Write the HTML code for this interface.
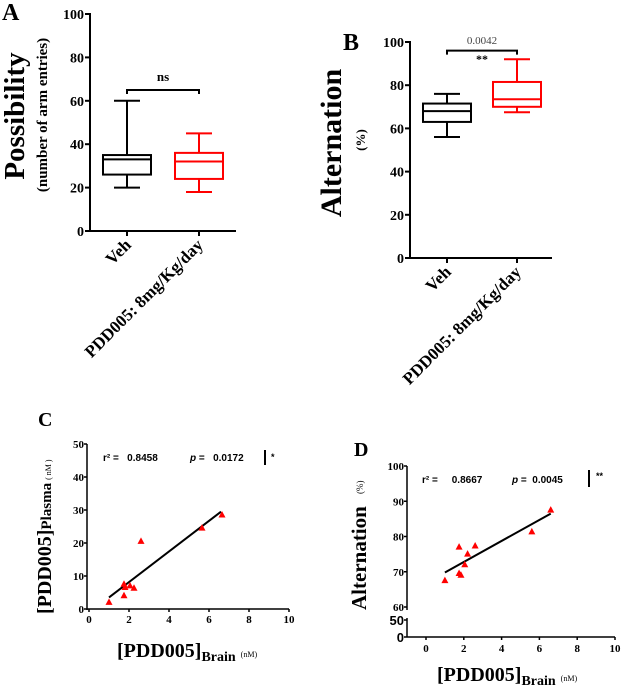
<!DOCTYPE html>
<html><head><meta charset="utf-8"><style>
html,body{margin:0;padding:0;background:#fff;width:621px;height:685px;overflow:hidden}
svg{display:block}
.t{font-family:"Liberation Serif",serif;font-weight:bold;fill:#000}
.s{font-family:"Liberation Sans",sans-serif;font-weight:bold;fill:#000;white-space:pre}
</style></head><body>
<svg id="fig" width="621" height="685" viewBox="0 0 621 685" xmlns="http://www.w3.org/2000/svg">
<text class="t" x="2" y="20" font-size="24">A</text>
<text class="t" font-size="29" transform="translate(24,116) rotate(-90)" text-anchor="middle">Possibility</text>
<text class="t" font-size="15" transform="translate(47,115) rotate(-90)" text-anchor="middle">(number of arm entries)</text>
<text class="t" x="163" y="81" font-size="13" text-anchor="middle">ns</text>
<text class="t" x="343" y="50" font-size="24">B</text>
<text class="t" font-size="30" transform="translate(341,143) rotate(-90)" text-anchor="middle">Alternation</text>
<text class="t" font-size="13" transform="translate(365,140) rotate(-90)" text-anchor="middle">(%)</text>
<text x="482" y="44" font-size="11" text-anchor="middle" fill="#444" font-family="Liberation Serif,serif">0.0042</text>
<text class="t" x="482" y="63" font-size="12" text-anchor="middle">**</text>
<text class="t" x="38" y="426" font-size="20">C</text>
<text class="t" font-size="20" transform="translate(51,614) rotate(-90)">[PDD005]<tspan font-size="15">Plasma</tspan><tspan font-size="8" font-weight="normal" dx="3">( nM )</tspan></text>
<text class="t" x="117" y="657" font-size="20">[PDD005]<tspan font-size="14" dy="4">Brain</tspan><tspan font-size="8" font-weight="normal" dx="5" dy="-4">(nM)</tspan></text>
<text class="s" x="103" y="461" font-size="10">r² =   0.8458</text>
<text class="s" x="190" y="461" font-size="10"><tspan font-style="italic">p</tspan> =   0.0172</text>
<line x1="265" y1="450" x2="265" y2="465" stroke="#000" stroke-width="2"/>
<text class="s" x="271" y="460" font-size="9">*</text>
<text class="t" x="354" y="456" font-size="20">D</text>
<text class="t" font-size="21" transform="translate(366,610) rotate(-90)">Alternation</text>
<text font-size="9" font-family="Liberation Serif,serif" transform="translate(363,494) rotate(-90)">(%)</text>
<text class="t" x="437" y="681" font-size="20">[PDD005]<tspan font-size="14" dy="4">Brain</tspan><tspan font-size="8" font-weight="normal" dx="5" dy="-4">(nM)</tspan></text>
<text class="s" x="422" y="483" font-size="10">r² =     0.8667</text>
<text class="s" x="512" y="483" font-size="10"><tspan font-style="italic">p</tspan> =  0.0045</text>
<line x1="589" y1="470" x2="589" y2="487" stroke="#000" stroke-width="2"/>
<text class="s" x="596" y="479" font-size="9">**</text>
</svg>
<script>
const boxGroups = ["Veh", "PDD005: 8mg/Kg/day"];
const boxAMin = [20, 18], boxAQ1 = [26, 24], boxAMed = [33, 32], boxAQ3 = [35, 36], boxAMax = [60, 45];
const boxBMin = [56, 67.5], boxBQ1 = [63, 70], boxBMed = [68, 73.5], boxBQ3 = [71.5, 81.5], boxBMax = [76, 92];
const boxTicks = [0, 20, 40, 60, 80, 100];
const boxColors = ["#000", "#f00"];
const cX = [1.0, 1.75, 1.75, 1.8, 2.05, 2.25, 2.6, 5.65, 6.65];
const cY = [2, 7.5, 4, 6.5, 7, 6.3, 20.5, 24.5, 28.5];
const cFitX = [1.0, 6.6], cFitY = [3.5, 29.5];
const cXTicks = [0, 2, 4, 6, 8, 10], cYTicks = [0, 10, 20, 30, 40, 50];
const dX = [1.0, 1.75, 1.75, 1.85, 2.05, 2.2, 2.6, 5.6, 6.6];
const dY = [67.5, 77, 69.5, 69, 72, 75, 77.3, 81.3, 87.5];
const dFitX = [1.0, 6.6], dFitY = [69.8, 86.5];
const dXTicks = [0, 2, 4, 6, 8, 10], dYTicksUpper = [60, 70, 80, 90, 100], dYTicksLower = [0, 50];

const svg = document.getElementById('fig');
const NS = "http://www.w3.org/2000/svg";
function mk(tag, attrs, parent) {
  const e = document.createElementNS(NS, tag);
  for (const k in attrs) e.setAttribute(k, attrs[k]);
  (parent || svg).appendChild(e);
  return e;
}
function txt(x, y, s, size, anchor, cls) {
  const t = mk('text', {x: x, y: y, 'font-size': size, 'text-anchor': anchor || 'middle', class: cls || 't'});
  t.textContent = s;
  return t;
}

function boxPanel(p, ax, y0, y100, cx, xEnd, mins, q1, med, q3, maxs, bracketV) {
  const sy = v => y0 - (y0 - y100) * v / 100;
  const a = mk('line', {x1: ax, y1: y100 - 1, x2: ax, y2: y0, stroke: '#000', 'stroke-width': 2});
  
  
  const b = mk('line', {x1: ax, y1: y0, x2: xEnd, y2: y0, stroke: '#000', 'stroke-width': 2});
  
  
  boxTicks.forEach(v => {
    const tk = mk('line', {x1: ax - 5, y1: sy(v), x2: ax, y2: sy(v), stroke: '#000', 'stroke-width': 2});
    
    
    const tl = txt(ax - 6, sy(v) + 5, String(v), 14, 'end');
    
    
  });
  boxGroups.forEach((g, i) => {
    const x = cx[i], c = boxColors[i], hw = 24;
    const tk = mk('line', {x1: x, y1: y0, x2: x, y2: y0 + 5, stroke: '#000', 'stroke-width': 2});
    
    
    const lab = txt(0, 0, g, 17, 'end');
    lab.setAttribute('transform', 'translate(' + (x + 5) + ',' + (y0 + 15) + ') rotate(-45)');
    
    
    const grp = mk('g', {stroke: c, 'stroke-width': 2, fill: 'none'});
    
    
    mk('line', {x1: x, y1: sy(maxs[i]), x2: x, y2: sy(q3[i])}, grp);
    mk('line', {x1: x, y1: sy(q1[i]), x2: x, y2: sy(mins[i])}, grp);
    mk('line', {x1: x - 13, y1: sy(maxs[i]), x2: x + 13, y2: sy(maxs[i])}, grp);
    mk('line', {x1: x - 13, y1: sy(mins[i]), x2: x + 13, y2: sy(mins[i])}, grp);
    mk('rect', {x: x - hw, y: sy(q3[i]), width: 2 * hw, height: sy(q1[i]) - sy(q3[i])}, grp);
    mk('line', {x1: x - hw, y1: sy(med[i]), x2: x + hw, y2: sy(med[i])}, grp);
  });
  const br = mk('path', {d: 'M' + cx[0] + ',' + (sy(bracketV) + 4) + 'V' + sy(bracketV) + 'H' + cx[1] + 'V' + (sy(bracketV) + 4), stroke: '#000', 'stroke-width': 2, fill: 'none'});
  
  
}
boxPanel('panel-a', 90, 231, 14, [127, 199], 236, boxAMin, boxAQ1, boxAMed, boxAQ3, boxAMax, 65);
boxPanel('panel-b', 410, 258, 42, [447, 517], 552, boxBMin, boxBQ1, boxBMed, boxBQ3, boxBMax, 96);

function tri(x, y, p) {
  const t = mk('path', {d: 'M' + x + ',' + (y - 4) + 'L' + (x + 3.5) + ',' + (y + 2.5) + 'L' + (x - 3.5) + ',' + (y + 2.5) + 'Z', fill: '#f00'});
  
  
}

(function () {
  const x0 = 89, x10 = 289, y0 = 609, y50 = 444, ax = 87;
  const sx = v => x0 + (x10 - x0) * v / 10;
  const sy = v => y0 - (y0 - y50) * v / 50;
  const ya = mk('line', {x1: ax, y1: y50, x2: ax, y2: y0 + 1, stroke: '#000', 'stroke-width': 1.5});
  
  
  const xa = mk('line', {x1: ax, y1: y0, x2: x10, y2: y0, stroke: '#000', 'stroke-width': 1.5});
  
  
  cYTicks.forEach(v => {
    const tk = mk('line', {x1: ax - 3, y1: sy(v), x2: ax, y2: sy(v), stroke: '#000', 'stroke-width': 1.5});
    
    
    const tl = txt(ax - 3, sy(v) + 4, String(v), 11, 'end');
    
    
  });
  cXTicks.forEach(v => {
    const tk = mk('line', {x1: sx(v), y1: y0, x2: sx(v), y2: y0 + 3, stroke: '#000', 'stroke-width': 1.5});
    
    
    const tl = txt(sx(v), y0 + 14, String(v), 11, 'middle');
    
    
  });
  const fl = mk('line', {x1: sx(cFitX[0]), y1: sy(cFitY[0]), x2: sx(cFitX[1]), y2: sy(cFitY[1]), stroke: '#000', 'stroke-width': 2});
  
  
  cX.forEach((v, i) => tri(sx(v), sy(cY[i]), 'panel-c'));
})();

(function () {
  const x0 = 426, x10 = 615, ax = 407, yU100 = 466, yU60 = 607, yL0 = 637, yL50 = 620;
  const sx = v => x0 + (x10 - x0) * v / 10;
  const sy = v => yU60 - (yU60 - yU100) * (v - 60) / 40;
  const syl = v => yL0 - (yL0 - yL50) * v / 50;
  const ya = mk('line', {x1: ax, y1: yU100, x2: ax, y2: yU60 + 3, stroke: '#000', 'stroke-width': 1.5});
  
  
  const yl = mk('line', {x1: ax, y1: yL50 - 2, x2: ax, y2: yL0, stroke: '#000', 'stroke-width': 1.5});
  
  
  const xa = mk('line', {x1: ax, y1: yL0, x2: x10, y2: yL0, stroke: '#000', 'stroke-width': 1.5});
  
  
  dYTicksUpper.forEach(v => {
    const tk = mk('line', {x1: ax - 3, y1: sy(v), x2: ax, y2: sy(v), stroke: '#000', 'stroke-width': 1.5});
    
    
    const tl = txt(ax - 3, sy(v) + 4, String(v), 11, 'end');
    
    
  });
  dYTicksLower.forEach(v => {
    const tk = mk('line', {x1: ax - 3, y1: syl(v), x2: ax, y2: syl(v), stroke: '#000', 'stroke-width': 1.5});
    
    
    const tl = txt(ax - 3, syl(v) + 5, String(v), 13, 'end', 's');
    
    
  });
  dXTicks.forEach(v => {
    const tk = mk('line', {x1: sx(v), y1: yL0, x2: sx(v), y2: yL0 + 3, stroke: '#000', 'stroke-width': 1.5});
    
    
    const tl = txt(sx(v), yL0 + 15, String(v), 11, 'middle');
    
    
  });
  const fl = mk('line', {x1: sx(dFitX[0]), y1: sy(dFitY[0]), x2: sx(dFitX[1]), y2: sy(dFitY[1]), stroke: '#000', 'stroke-width': 2});
  
  
  dX.forEach((v, i) => tri(sx(v), sy(dY[i]), 'panel-d'));
})();
</script>
</body></html>
